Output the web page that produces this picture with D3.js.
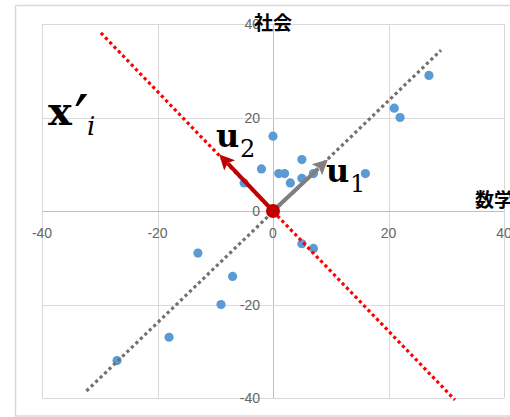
<!DOCTYPE html>
<html>
<head>
<meta charset="utf-8">
<script src="https://cdn.jsdelivr.net/npm/d3@7"></script>
<style>
  body { margin: 0; background: #fff; }
  svg { display: block; }
</style>
</head>
<body>
<svg id="chart" width="510" height="417"></svg>
<script>
//////////////////////////////////////
// Data

const ticks = [-40, -20, 0, 20, 40];
const scoreX = [27, 21, 22, 0, -2, 1, 2, 3, 5, 5, 7, 16, -5, 5, 7, -13, -7, -9, -18, -27]; // 数学
const scoreY = [29, 22, 20, 16, 9, 8, 8, 6, 11, 7, 8, 8, 6, -7, -8, -9, -14, -20, -27, -32]; // 社会
const axis1 = [[-32.3, -38.5], [29.1, 34.4]];   // gray dotted line
const axis2 = [[-29.8, 38.1], [31.5, -40.4]];   // red dotted line
const u1 = [9.5, 11];
const u2 = [-9.3, 12.1];

//////////////////////////////////////
// Layout

const svg = d3.select("#chart");

const x = d3.scaleLinear().domain([-40, 40]).range([42, 504]);
const y = d3.scaleLinear().domain([-40, 40]).range([398, 24]);

// chart border
svg.append("rect")
  .attr("x", 15.5).attr("y", 5.5)
  .attr("width", 520).attr("height", 410.5)
  .attr("fill", "#fff").attr("stroke", "#d9d9d9").attr("stroke-width", 1.5);

// grid
const grid = svg.append("g");
grid.selectAll(".gx").data(ticks).enter().append("line")
  .attr("x1", d => Math.round(x(d)) + 0.5).attr("x2", d => Math.round(x(d)) + 0.5)
  .attr("y1", y(40)).attr("y2", y(-40))
  .attr("stroke", d => d === 0 ? "#bfbfbf" : "#d9d9d9");
grid.selectAll(".gy").data(ticks).enter().append("line")
  .attr("y1", d => Math.round(y(d)) + 0.5).attr("y2", d => Math.round(y(d)) + 0.5)
  .attr("x1", x(-40)).attr("x2", x(40))
  .attr("stroke", d => d === 0 ? "#bfbfbf" : "#d9d9d9");

// tick labels
svg.selectAll(".tx").data(ticks).enter().append("text")
  .attr("x", d => x(d)).attr("y", y(0) + 27)
  .attr("text-anchor", "middle")
  .style("font", "14px 'Liberation Sans', sans-serif").attr("fill", "#666")
  .text(d => d);
svg.selectAll(".ty").data(ticks).enter().append("text")
  .attr("x", x(0) - 13).attr("y", d => y(d) + 5)
  .attr("text-anchor", "end")
  .style("font", "14px 'Liberation Sans', sans-serif").attr("fill", "#666")
  .text(d => d);

// points
svg.selectAll(".pt").data(d3.range(scoreX.length)).enter().append("circle")
  .attr("cx", i => x(scoreX[i])).attr("cy", i => y(scoreY[i]))
  .attr("r", 4.6).attr("fill", "#5b9bd5");

// dotted axes
const line = d3.line().x(d => x(d[0])).y(d => y(d[1]));
svg.append("path").attr("d", line(axis1))
  .attr("fill", "none").attr("stroke", "#767171")
  .attr("stroke-width", 3.2).attr("stroke-dasharray", "3.2,3");
svg.append("path").attr("d", line(axis2))
  .attr("fill", "none").attr("stroke", "#ff0000")
  .attr("stroke-width", 3.2).attr("stroke-dasharray", "3.2,3");

// arrows
function arrow(v, col) {
  const x0 = x(0), y0 = y(0), x1 = x(v[0]), y1 = y(v[1]);
  const len = Math.hypot(x1 - x0, y1 - y0);
  const ux = (x1 - x0) / len, uy = (y1 - y0) / len;
  const hl = 15, hw = 7.5;
  const bx = x1 - ux * hl, by = y1 - uy * hl;
  svg.append("line")
    .attr("x1", x0).attr("y1", y0)
    .attr("x2", bx + ux * 2).attr("y2", by + uy * 2)
    .attr("stroke", col).attr("stroke-width", 4);
  svg.append("path")
    .attr("d", "M" + x1 + "," + y1 +
      "L" + (bx - uy * hw) + "," + (by + ux * hw) +
      "L" + (bx + ux * 3) + "," + (by + uy * 3) +
      "L" + (bx + uy * hw) + "," + (by - ux * hw) + "Z")
    .attr("fill", col);
}
arrow(u1, "#7f7f7f");
arrow(u2, "#c00000");

svg.append("circle").attr("cx", x(0)).attr("cy", y(0)).attr("r", 7).attr("fill", "#c00000");

// axis titles
svg.append("text").attr("x", 254).attr("y", 30)
  .style("font", "bold 19px 'Noto Sans CJK JP', sans-serif").attr("fill", "#000")
  .text("社会");
svg.append("text").attr("x", 475).attr("y", 207)
  .style("font", "bold 19px 'Noto Sans CJK JP', sans-serif").attr("fill", "#000")
  .text("数学");

// math labels
const serif = "'DejaVu Serif', serif";
function label(px, py, txt, size, weight, style) {
  svg.append("text").attr("x", px).attr("y", py)
    .style("font-family", serif).style("font-size", size + "px")
    .style("font-weight", weight).style("font-style", style)
    .attr("fill", "#000").text(txt);
}
label(48, 125, "x", 40, "bold", "normal");
label(74, 142, "′", 66, "normal", "normal");
label(87, 135, "i", 26, "normal", "italic");

label(216, 147, "u", 32, "bold", "normal");
label(240, 157, "2", 24, "normal", "normal");
label(326, 182, "u", 32, "bold", "normal");
label(350, 192, "1", 24, "normal", "normal");
</script>
</body>
</html>
